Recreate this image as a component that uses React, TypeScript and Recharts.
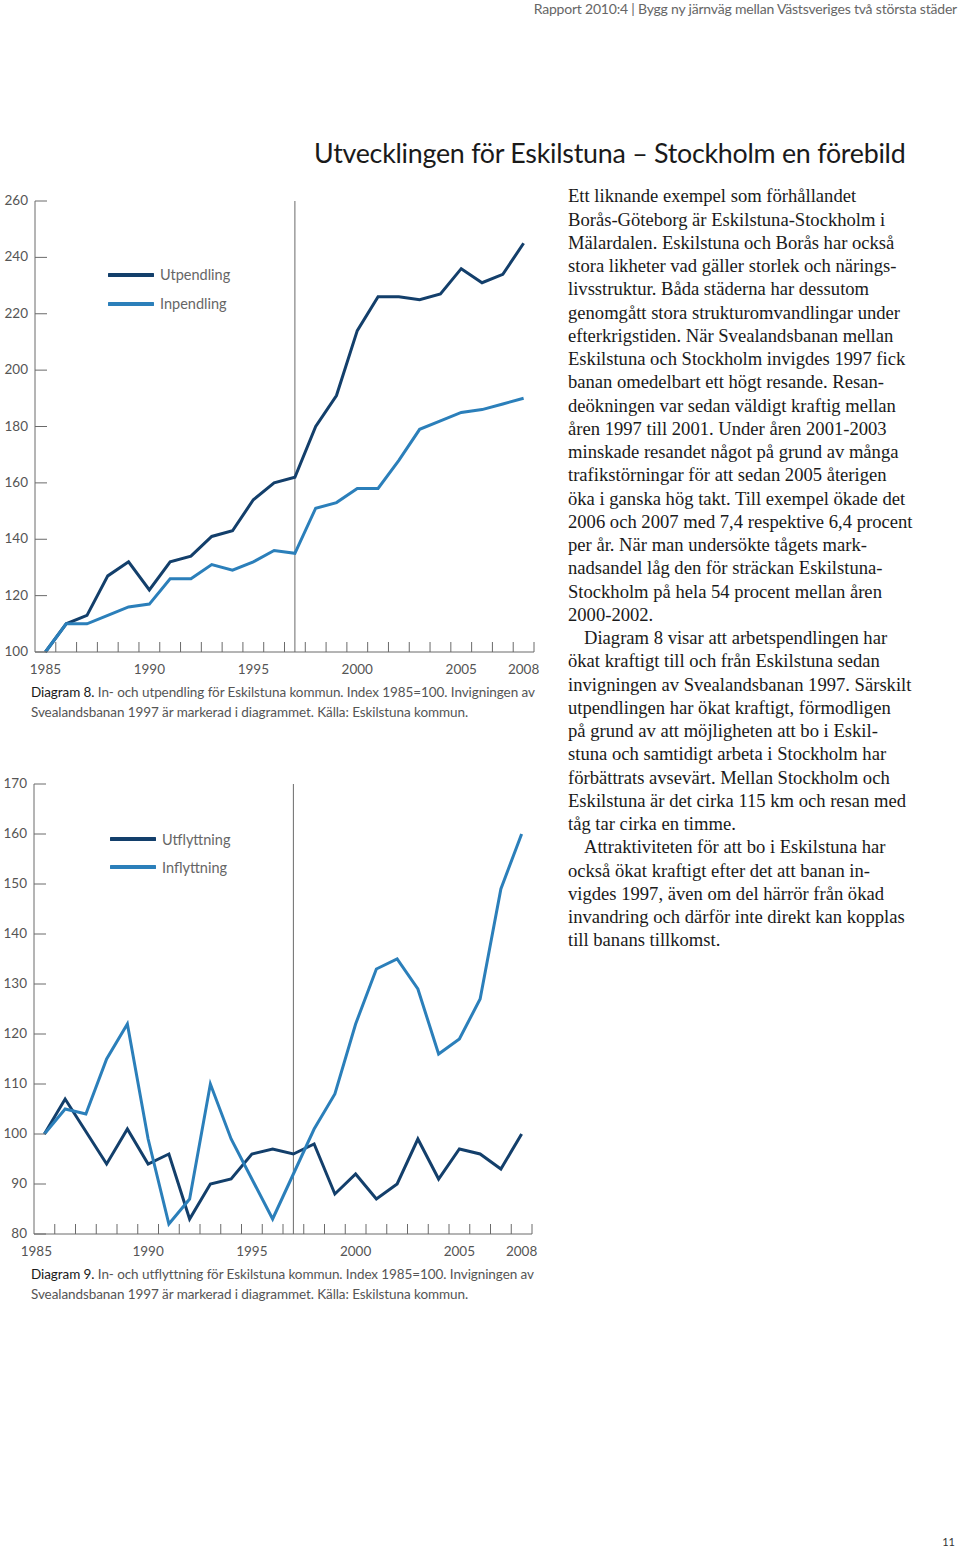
import React from 'react';
import { LineChart, Line, XAxis, YAxis, ReferenceLine, Legend } from 'recharts';

const years = [1985, 1986, 1987, 1988, 1989, 1990, 1991, 1992, 1993, 1994, 1995, 1996, 1997, 1998, 1999, 2000, 2001, 2002, 2003, 2004, 2005, 2006, 2007, 2008];
const utpendling = [100, 110, 113, 127, 132, 122, 132, 134, 141, 143, 154, 160, 162, 180, 191, 214, 226, 226, 225, 227, 236, 231, 234, 245];
const inpendling = [100, 110, 110, 113, 116, 117, 126, 126, 131, 129, 132, 136, 135, 151, 153, 158, 158, 168, 179, 182, 185, 186, 188, 190];
const utflyttning = [100, 107, 100.5, 94, 101, 94, 96, 83, 90, 91, 96, 97, 96, 98, 88, 92, 87, 90, 99, 91, 97, 96, 93, 100];
const inflyttning = [100, 105, 104, 115, 122, 99, 82, 87, 110, 99, 91, 83, 92, 101, 108, 122, 133, 135, 129, 116, 119, 127, 149, 160];

const xLabels = [1985, 1990, 1995, 2000, 2005, 2008];
const yTicks1 = [100, 120, 140, 160, 180, 200, 220, 240, 260];
const yTicks2 = [80, 90, 100, 110, 120, 130, 140, 150, 160, 170];
const openingYear = 1997;
const legendOrder1 = ['Utpendling', 'Inpendling'];
const legendOrder2 = ['Utflyttning', 'Inflyttning'];

const data1 = years.map((y, i) => ({ year: y, Utpendling: utpendling[i], Inpendling: inpendling[i] }));
const data2 = years.map((y, i) => ({ year: y, Utflyttning: utflyttning[i], Inflyttning: inflyttning[i] }));
const boundaries = years.map((y) => y + 0.5);
const xTicks = [...xLabels, ...boundaries].sort((a, b) => a - b);

const DARK = '#133f6b';
const LIGHT = '#2b7fba';
const AXIS = '#6a6a6a';
const LABEL = '#555555';
const SANS = 'Lato, "Open Sans", sans-serif';
const SERIF = '"Liberation Serif", "DejaVu Serif", serif';

const bodyLines = [
  'Ett liknande exempel som förhållandet',
  'Borås-Göteborg är Eskilstuna-Stockholm i',
  'Mälardalen. Eskilstuna och Borås har också',
  'stora likheter vad gäller storlek och närings-',
  'livsstruktur. Båda städerna har dessutom',
  'genomgått stora strukturomvandlingar under',
  'efterkrigstiden. När Svealandsbanan mellan',
  'Eskilstuna och Stockholm invigdes 1997 fick',
  'banan omedelbart ett högt resande. Resan-',
  'deökningen var sedan väldigt kraftig mellan',
  'åren 1997 till 2001. Under åren 2001-2003',
  'minskade resandet något på grund av många',
  'trafikstörningar för att sedan 2005 återigen',
  'öka i ganska hög takt. Till exempel ökade det',
  '2006 och 2007 med 7,4 respektive 6,4 procent',
  'per år. När man undersökte tågets mark-',
  'nadsandel låg den för sträckan Eskilstuna-',
  'Stockholm på hela 54 procent mellan åren',
  '2000-2002.',
  'Diagram 8 visar att arbetspendlingen har',
  'ökat kraftigt till och från Eskilstuna sedan',
  'invigningen av Svealandsbanan 1997. Särskilt',
  'utpendlingen har ökat kraftigt, förmodligen',
  'på grund av att möjligheten att bo i Eskil-',
  'stuna och samtidigt arbeta i Stockholm har',
  'förbättrats avsevärt. Mellan Stockholm och',
  'Eskilstuna är det cirka 115 km och resan med',
  'tåg tar cirka en timme.',
  'Attraktiviteten för att bo i Eskilstuna har',
  'också ökat kraftigt efter det att banan in-',
  'vigdes 1997, även om del härrör från ökad',
  'invandring och därför inte direkt kan kopplas',
  'till banans tillkomst.',
];
const indentedLines = [19, 28];

const makeXTick = (firstDx: number) => (props: any) => {
  const { x, y, payload } = props;
  const v = payload.value;
  if (v % 1 !== 0) {
    return <line x1={x} x2={x} y1={y} y2={y - 10} stroke={AXIS} strokeWidth={1} />;
  }
  return (
    <text x={x + (v === xLabels[0] ? firstDx : 0)} y={y + 22} textAnchor="middle" fill={LABEL} fontSize={13.5} fontFamily={SANS}>
      {v}
    </text>
  );
};

const YTick = (props: any) => {
  const { x, y, payload } = props;
  return (
    <g>
      <line x1={x} x2={x + 12} y1={y} y2={y} stroke={AXIS} strokeWidth={1} />
      <text x={x - 7} y={y + 4} textAnchor="end" fill={LABEL} fontSize={13.5} fontFamily={SANS}>
        {payload.value}
      </text>
    </g>
  );
};

const makeLegend = (rowH: number, order: string[]) => (props: any) => {
  const items = [...(props.payload || [])].sort((a: any, b: any) => order.indexOf(a.value) - order.indexOf(b.value));
  return (
    <div style={{ fontFamily: SANS }}>
      {items.map((it: any) => (
        <div key={it.value} style={{ height: rowH, display: 'flex', alignItems: 'center' }}>
          <svg width={46} height={6} style={{ display: 'block' }}>
            <line x1={1} x2={45} y1={3} y2={3} stroke={it.color} strokeWidth={4} strokeLinecap="round" />
          </svg>
          <span style={{ marginLeft: 6, fontSize: 14.5, color: '#666' }}>{it.value}</span>
        </div>
      ))}
    </div>
  );
};

const Caption = ({ top, num, text1, text2 }: { top: number; num: string; text1: string; text2: string }) => (
  <div style={{ position: 'absolute', left: 31, top, fontFamily: SANS, fontSize: 13.5, lineHeight: '20px', color: '#555', letterSpacing: '-0.08px', whiteSpace: 'nowrap' }}>
    <div>
      <span style={{ color: '#1a1a1a' }}>{num}</span> {text1}
    </div>
    <div>{text2}</div>
  </div>
);

export default function App() {
  return (
    <div style={{ position: 'absolute', left: 0, top: 0, width: 960, height: 1548, background: '#fff', overflow: 'hidden' }}>
      <div style={{ position: 'absolute', right: 3, top: 0, fontFamily: SANS, fontSize: 14, color: '#666', whiteSpace: 'nowrap', lineHeight: '18px', letterSpacing: '-0.2px' }}>
        Rapport 2010:4 | Bygg ny järnväg mellan Västsveriges två största städer
      </div>
      <div style={{ position: 'absolute', left: 314, top: 135, fontFamily: SANS, fontSize: 26.8, color: '#1a1a1a', whiteSpace: 'nowrap', lineHeight: '36px', letterSpacing: '-0.25px' }}>
        Utvecklingen för Eskilstuna – Stockholm en förebild
      </div>

      <div style={{ position: 'absolute', left: 0, top: 180 }}>
        <LineChart width={560} height={520} data={data1} margin={{ top: 21, right: 26, left: 0, bottom: 18 }}>
          <XAxis dataKey="year" type="number" domain={[1984.5, 2008.5]} ticks={xTicks} interval={0} tickSize={0} tickMargin={0} tickLine={false} stroke={AXIS} height={30} tick={makeXTick(0)} />
          <YAxis type="number" domain={[100, 260]} ticks={yTicks1} interval={0} tickSize={0} tickMargin={0} tickLine={false} stroke={AXIS} width={35} tick={<YTick />} />
          <ReferenceLine x={openingYear} stroke={AXIS} strokeWidth={1} />
          <Legend layout="vertical" align="center" verticalAlign="middle" content={makeLegend(29, legendOrder1)} wrapperStyle={{ left: 108, top: 80, width: 200 }} />
          <Line type="linear" dataKey="Utpendling" stroke={DARK} strokeWidth={3} dot={false} isAnimationActive={false} />
          <Line type="linear" dataKey="Inpendling" stroke={LIGHT} strokeWidth={3} dot={false} isAnimationActive={false} />
        </LineChart>
      </div>
      <Caption top={682} num="Diagram 8." text1="In- och utpendling för Eskilstuna kommun. Index 1985=100. Invigningen av" text2="Svealandsbanan 1997 är markerad i diagrammet. Källa: Eskilstuna kommun." />

      <div style={{ position: 'absolute', left: 0, top: 760 }}>
        <LineChart width={560} height={520} data={data2} margin={{ top: 24, right: 28, left: 0, bottom: 16 }}>
          <XAxis dataKey="year" type="number" domain={[1984.5, 2008.5]} ticks={xTicks} interval={0} tickSize={0} tickMargin={0} tickLine={false} stroke={AXIS} height={30} tick={makeXTick(-8)} />
          <YAxis type="number" domain={[80, 170]} ticks={yTicks2} interval={0} tickSize={0} tickMargin={0} tickLine={false} stroke={AXIS} width={34} tick={<YTick />} />
          <ReferenceLine x={openingYear} stroke={AXIS} strokeWidth={1} />
          <Legend layout="vertical" align="center" verticalAlign="middle" content={makeLegend(28, legendOrder2)} wrapperStyle={{ left: 110, top: 65, width: 200 }} />
          <Line type="linear" dataKey="Utflyttning" stroke={DARK} strokeWidth={3} dot={false} isAnimationActive={false} />
          <Line type="linear" dataKey="Inflyttning" stroke={LIGHT} strokeWidth={3} dot={false} isAnimationActive={false} />
        </LineChart>
      </div>
      <Caption top={1264} num="Diagram 9." text1="In- och utflyttning för Eskilstuna kommun. Index 1985=100. Invigningen av" text2="Svealandsbanan 1997 är markerad i diagrammet. Källa: Eskilstuna kommun." />

      <div style={{ position: 'absolute', left: 568, top: 184.4, fontFamily: SERIF, fontSize: 18.6, lineHeight: '23.25px', color: '#1a1a1a', whiteSpace: 'pre' }}>
        {bodyLines.map((l, i) => (
          <div key={i} style={{ paddingLeft: indentedLines.includes(i) ? 16 : 0 }}>{l}</div>
        ))}
      </div>

      <div style={{ position: 'absolute', right: 5, top: 1535, fontFamily: SANS, fontSize: 11, color: '#333' }}>11</div>
    </div>
  );
}
